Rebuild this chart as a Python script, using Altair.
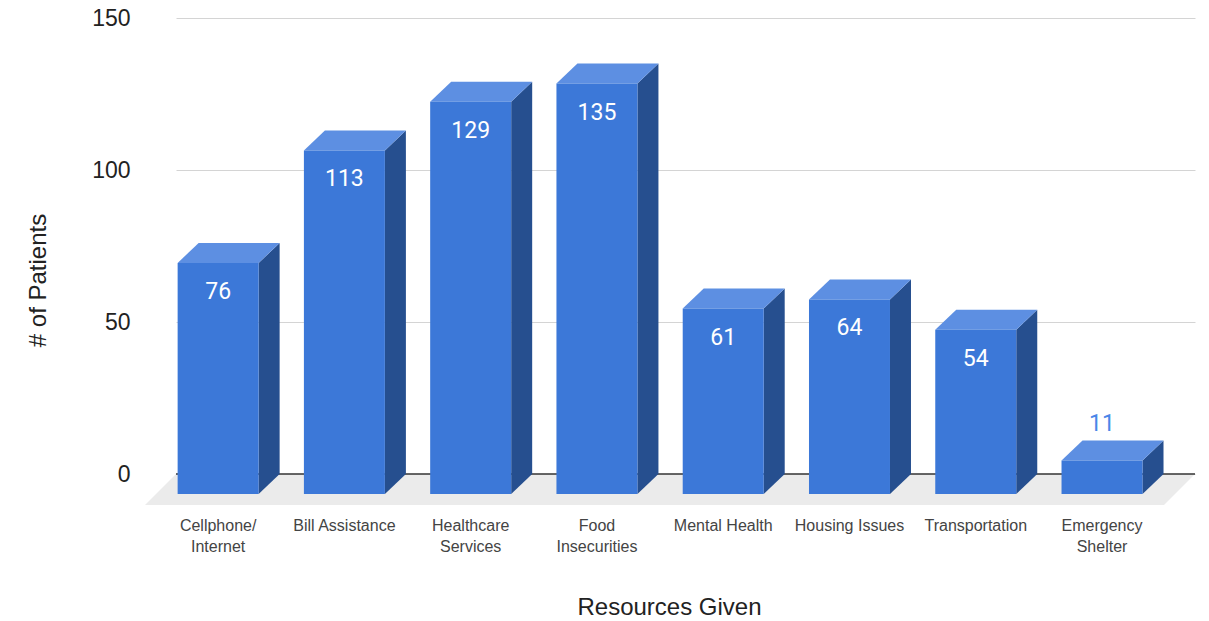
import altair as alt
import pandas as pd

categories = [
    "Cellphone/\nInternet", "Bill Assistance", "Healthcare\nServices",
    "Food\nInsecurities", "Mental Health", "Housing Issues",
    "Transportation", "Emergency\nShelter",
]
patients = [76, 113, 129, 135, 61, 64, 54, 11]
y_ticks = [0, 50, 100, 150]

# plot area and scale domains
W, H = 1019, 456
X_MIN, X_MAX = -0.5, 7.57
Y_MAX = 150
px_x = W / (X_MAX - X_MIN)
px_y = H / Y_MAX

# extrusion of the bars and of the floor (pixels), converted to data units
BAR_W, BAR_DX, BAR_DY = 81, 21, 20
FLOOR_DX, FLOOR_DY = 31, 31
half = BAR_W / 2 / px_x
dx, dy = BAR_DX / px_x, BAR_DY / px_y
fdx, fdy = FLOOR_DX / px_x, FLOOR_DY / px_y

FRONT, TOP, SIDE = "#3c78d8", "#5d8fe2", "#264f8f"

front = pd.DataFrame({
    "label": categories,
    "value": patients,
    "x0": [i - half - dx for i in range(len(patients))],
    "x1": [i + half - dx for i in range(len(patients))],
    "xc": [i - dx for i in range(len(patients))],
    "y0": [-dy] * len(patients),
    "y1": [v - dy for v in patients],
})
front["inside"] = front["value"] * px_y > 45

top_rows, side_rows = [], []
for i, v in enumerate(patients):
    top_rows.append({"bar": i, "y": v - dy, "xa": i - half - dx, "xb": i + half - dx})
    top_rows.append({"bar": i, "y": v, "xa": i - half, "xb": i + half})
    side_rows.append({"bar": i, "x": i + half - dx, "ya": -dy, "yb": v - dy})
    side_rows.append({"bar": i, "x": i + half, "ya": 0, "yb": v})
top = pd.DataFrame(top_rows)
side = pd.DataFrame(side_rows)
floor = pd.DataFrame({
    "y": [-fdy, 0],
    "xa": [X_MIN - fdx, X_MIN],
    "xb": [X_MAX - fdx, X_MAX],
})
baseline = pd.DataFrame({"xa": [X_MIN], "xb": [X_MAX], "y": [0]})

xs = alt.Scale(domain=[X_MIN, X_MAX], nice=False, zero=False)
ys = alt.Scale(domain=[0, Y_MAX], nice=False, zero=False)

y_axis = alt.Axis(
    values=y_ticks, title="# of Patients", ticks=False, domain=False,
    labelFontSize=23, labelFont="Liberation Sans", labelColor="#222222",
    labelPadding=46, gridColor="#d4d4d4", gridWidth=1,
    titleFontSize=24, titleFont="Liberation Sans", titleFontWeight="normal",
    titleColor="#222222", titleAngle=-90, titleX=-138, titleY=262,
    titleAlign="center", titleBaseline="middle",
)
x_axis = alt.Axis(
    title="Resources Given", labels=False, ticks=False, domain=False, grid=False,
    titleFontSize=24, titleFont="Liberation Sans", titleFontWeight="normal",
    titleColor="#222222", titlePadding=121, titleX=493,
)

floor_layer = alt.Chart(floor).mark_area(orient="horizontal", color="#ebebeb").encode(
    y=alt.Y("y:Q", scale=ys, stack=None, axis=y_axis),
    x=alt.X("xa:Q", scale=xs, stack=None, axis=x_axis),
    x2="xb:Q",
)

base_layer = alt.Chart(baseline).mark_rule(color="#333333", strokeWidth=1.5).encode(
    x=alt.X("xa:Q", scale=xs, axis=x_axis),
    x2="xb:Q",
    y=alt.Y("y:Q", scale=ys, axis=y_axis),
)

side_layer = alt.Chart(side).mark_area(orient="vertical", color=SIDE).encode(
    x=alt.X("x:Q", scale=xs, axis=x_axis),
    y=alt.Y("ya:Q", scale=ys, stack=None, axis=y_axis),
    y2="yb:Q",
    detail="bar:N",
)

top_layer = alt.Chart(top).mark_area(orient="horizontal", color=TOP).encode(
    y=alt.Y("y:Q", scale=ys, axis=y_axis),
    x=alt.X("xa:Q", scale=xs, stack=None, axis=x_axis),
    x2="xb:Q",
    detail="bar:N",
)

front_layer = alt.Chart(front).mark_rect(color=FRONT).encode(
    x=alt.X("x0:Q", scale=xs, axis=x_axis),
    x2="x1:Q",
    y=alt.Y("y0:Q", scale=ys, axis=y_axis),
    y2="y1:Q",
)

value_in = alt.Chart(front).transform_filter("datum.inside").mark_text(
    font="Roboto", fontSize=23, color="white", baseline="middle", dy=29
).encode(
    x=alt.X("xc:Q", scale=xs, axis=x_axis),
    y=alt.Y("y1:Q", scale=ys, axis=y_axis),
    text="value:Q",
)

value_out = alt.Chart(front).transform_filter("!datum.inside").mark_text(
    font="Roboto", fontSize=23, color="#4a86e8", baseline="middle", dy=-37
).encode(
    x=alt.X("xc:Q", scale=xs, axis=x_axis),
    y=alt.Y("y1:Q", scale=ys, axis=y_axis),
    text="value:Q",
)

cat_labels = alt.Chart(front).mark_text(
    font="Liberation Sans", fontSize=16, color="#444444", baseline="top",
    lineBreak="\n", lineHeight=21, dy=44,
).encode(
    x=alt.X("xc:Q", scale=xs, axis=x_axis),
    y=alt.datum(0, scale=ys, axis=y_axis),
    text="label:N",
)

chart = alt.layer(
    floor_layer, base_layer, side_layer, top_layer, front_layer,
    value_in, value_out, cat_labels,
).properties(
    width=W, height=H,
    autosize=alt.AutoSizeParams(type="none"),
    padding={"left": 176, "top": 18, "right": 14, "bottom": 147},
).configure(background="white").configure_view(stroke=None)

chart.save("out.html", embed_options={"renderer": "svg", "actions": False})
